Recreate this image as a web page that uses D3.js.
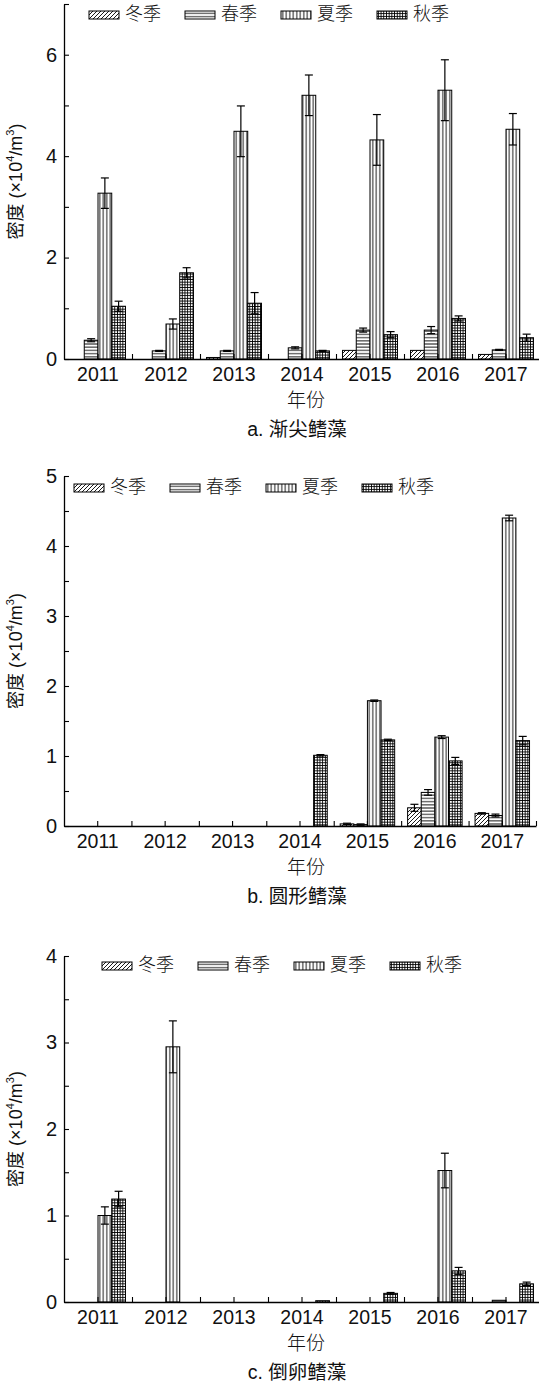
<!DOCTYPE html>
<html>
<head>
<meta charset="utf-8">
<script src="https://cdn.jsdelivr.net/npm/d3@7/dist/d3.min.js"></script>
<style>
  html, body { margin: 0; padding: 0; background: #fff; }
  svg { display: block; }
  text { font-family: "Liberation Sans", Arial, "Noto Sans CJK SC", sans-serif; fill: #111; }
  .cjk { font-family: "Noto Sans CJK SC", sans-serif; font-weight: 300; }
</style>
</head>
<body>
<svg id="fig" width="539" height="1382"></svg>
<script>
// categories
const years = ["2011", "2012", "2013", "2014", "2015", "2016", "2017"];
const seasons = ["冬季", "春季", "夏季", "秋季"];

// a. 渐尖鳍藻 (×10^4/m^3)
const winterA = [0, 0, 0.03, 0, 0.17, 0.17, 0.09];
const springA = [0.37, 0.16, 0.16, 0.22, 0.57, 0.57, 0.18];
const summerA = [3.27, 0.69, 4.49, 5.20, 4.32, 5.30, 4.53];
const autumnA = [1.04, 1.70, 1.10, 0.16, 0.48, 0.80, 0.42];
const winterAErr = [0, 0, 0, 0, 0, 0, 0];
const springAErr = [0.03, 0.01, 0.01, 0.02, 0.04, 0.07, 0.01];
const summerAErr = [0.30, 0.10, 0.50, 0.40, 0.50, 0.60, 0.31];
const autumnAErr = [0.10, 0.10, 0.21, 0.01, 0.06, 0.05, 0.07];

// b. 圆形鳍藻
const winterB = [0, 0, 0, 0, 0.03, 0.26, 0.18];
const springB = [0, 0, 0, 0, 0.02, 0.48, 0.15];
const summerB = [0, 0, 0, 0, 1.79, 1.27, 4.40];
const autumnB = [0, 0, 0, 1.01, 1.23, 0.93, 1.22];
const winterBErr = [0, 0, 0, 0, 0.01, 0.05, 0.01];
const springBErr = [0, 0, 0, 0, 0.01, 0.04, 0.02];
const summerBErr = [0, 0, 0, 0, 0.01, 0.02, 0.04];
const autumnBErr = [0, 0, 0, 0.01, 0.01, 0.05, 0.06];

// c. 倒卵鳍藻
const winterC = [0, 0, 0, 0, 0, 0, 0];
const springC = [0, 0, 0, 0, 0, 0, 0.02];
const summerC = [1.00, 2.95, 0, 0, 0, 1.52, 0];
const autumnC = [1.19, 0, 0, 0.015, 0.10, 0.36, 0.21];
const winterCErr = [0, 0, 0, 0, 0, 0, 0];
const springCErr = [0, 0, 0, 0, 0, 0, 0];
const summerCErr = [0.10, 0.30, 0, 0, 0, 0.20, 0];
const autumnCErr = [0.09, 0, 0, 0, 0.01, 0.04, 0.02];

// y ticks
const yMajorA = [0, 2, 4, 6];
const yMajorB = [0, 1, 2, 3, 4, 5];
const yMajorC = [0, 1, 2, 3, 4];

const svg = d3.select("#fig");
const defs = svg.append("defs");
const patIds = ["pat-diag", "pat-horiz", "pat-vert", "pat-grid"];

// hatch fills
function addPattern(id, w, h, d) {
  const p = defs.append("pattern")
    .attr("id", id)
    .attr("patternUnits", "userSpaceOnUse")
    .attr("width", w).attr("height", h);
  p.append("rect").attr("width", w).attr("height", h).attr("fill", "#fff");
  p.append("path").attr("d", d).attr("stroke", "#000").attr("stroke-width", 0.9).attr("fill", "none");
}
addPattern("pat-diag", 4, 4, "M-1,1L1,-1M0,4L4,0M3,5L5,3");
addPattern("pat-horiz", 4, 3.2, "M0,1.6H4");
addPattern("pat-vert", 3.5, 4, "M1.75,0V4");
addPattern("pat-grid", 2.7, 2.7, "M1.35,0V2.7M0,1.35H2.7");

function drawChart(cfg) {
  const g = svg.append("g");
  const x = d3.scaleBand().domain(years).range([cfg.x0, cfg.x1]).paddingInner(0).paddingOuter(0);
  const bw = x.bandwidth();
  const xs = d3.scaleBand().domain(seasons).range([bw * 0.096, bw * 0.904]);
  const xEdge = d3.scaleLinear().domain([0, years.length]).range([cfg.x0, cfg.x1]);
  const y = d3.scaleLinear().domain([0, cfg.yMax]).range([cfg.yBase, cfg.yTop]);

  const rows = [];
  years.forEach((yr, i) => {
    seasons.forEach((s, j) => {
      rows.push({ year: yr, season: s, k: j, v: cfg.values[j][i], e: cfg.errs[j][i] });
    });
  });
  const shown = rows.filter(d => d.v > 0);

  // bars
  g.append("g").selectAll("rect")
    .data(shown)
    .join("rect")
    .attr("x", d => x(d.year) + xs(d.season))
    .attr("y", d => y(d.v))
    .attr("width", xs.bandwidth())
    .attr("height", d => y(0) - y(d.v))
    .attr("fill", d => `url(#${patIds[d.k]})`)
    .attr("stroke", "#000")
    .attr("stroke-width", 1);

  // error bars (mean ± err)
  const eb = g.append("g").attr("stroke", "#000").attr("stroke-width", 1.2);
  shown.filter(d => d.e > 0).forEach(d => {
    const cx = x(d.year) + xs(d.season) + xs.bandwidth() / 2;
    const hi = y(d.v + d.e), lo = y(Math.max(0, d.v - d.e));
    eb.append("line").attr("x1", cx).attr("x2", cx).attr("y1", hi).attr("y2", lo);
    eb.append("line").attr("x1", cx - 4).attr("x2", cx + 4).attr("y1", hi).attr("y2", hi);
    eb.append("line").attr("x1", cx - 4).attr("x2", cx + 4).attr("y1", lo).attr("y2", lo);
  });

  // y axis
  const yTicks = d3.range(0, cfg.yMax + 0.001, cfg.yMinor);
  const yAx = g.append("g")
    .attr("transform", `translate(${cfg.x0},0)`)
    .call(d3.axisLeft(y)
      .tickValues(yTicks)
      .tickSizeInner(-5)
      .tickSizeOuter(0)
      .tickPadding(7)
      .tickFormat(d => cfg.yMajor.includes(d) ? d3.format("d")(d) : ""));
  yAx.select(".domain").attr("stroke-width", 1.3);
  yAx.selectAll(".tick line").attr("stroke-width", 1.1);
  yAx.selectAll("text").attr("font-size", 20).attr("fill", "#111");

  // x axis: labels + center ticks
  const xAx = g.append("g")
    .attr("transform", `translate(0,${cfg.yBase})`)
    .call(d3.axisBottom(x).tickSizeInner(-5).tickSizeOuter(0).tickPadding(8));
  xAx.select(".domain").attr("stroke-width", 1.3);
  xAx.selectAll(".tick line").attr("stroke-width", 1.1);
  xAx.selectAll("text").attr("font-size", 19.5).attr("fill", "#111");

  // boundary ticks
  const xb = g.append("g")
    .attr("transform", `translate(0,${cfg.yBase})`)
    .call(d3.axisBottom(xEdge).tickValues(d3.range(1, years.length + 1)).tickSizeInner(-5).tickSizeOuter(0).tickFormat(""));
  xb.select(".domain").remove();
  xb.selectAll(".tick line").attr("stroke-width", 1.1);

  // axis titles
  const yt = g.append("text")
    .attr("transform", `translate(${cfg.yTitleX},${(cfg.yTop + cfg.yBase) / 2}) rotate(-90)`)
    .attr("text-anchor", "middle")
    .attr("font-size", 18)
    .attr("fill", "#333");
  yt.append("tspan").text("密度 (×10");
  yt.append("tspan").attr("font-size", 11).attr("dy", -8).text("4");
  yt.append("tspan").attr("dy", 8).text("/m");
  yt.append("tspan").attr("font-size", 11).attr("dy", -8).text("3");
  yt.append("tspan").attr("dy", 8).text(")");

  g.append("text")
    .attr("class", "cjk")
    .attr("x", 306)
    .attr("y", cfg.yBase + 41)
    .attr("dy", "0.35em")
    .attr("text-anchor", "middle")
    .attr("font-size", 19)
    .attr("fill", "#333")
    .text("年份");

  g.append("text")
    .attr("x", 297)
    .attr("y", cfg.yBase + 70)
    .attr("dy", "0.35em")
    .attr("text-anchor", "middle")
    .attr("font-size", 19.5)
    .attr("fill", "#333")
    .text(cfg.caption);

  // legend
  const lg = g.append("g").attr("transform", `translate(${cfg.legendX},${cfg.legendY})`);
  const li = lg.selectAll("g").data(seasons).join("g")
    .attr("transform", (d, i) => `translate(${i * 96},0)`);
  li.append("rect")
    .attr("x", 0).attr("y", -4).attr("width", 30).attr("height", 8)
    .attr("fill", (d, i) => `url(#${patIds[i]})`)
    .attr("stroke", "#000").attr("stroke-width", 1);
  li.append("text")
    .attr("class", "cjk")
    .attr("x", 36).attr("y", -1).attr("dy", "0.35em")
    .attr("font-size", 18)
    .attr("fill", "#333")
    .text(d => d);
}

drawChart({
  values: [winterA, springA, summerA, autumnA],
  errs: [winterAErr, springAErr, summerAErr, autumnAErr],
  x0: 64, x1: 540, yTop: 4, yBase: 359, yMax: 7, yMinor: 1, yMajor: yMajorA,
  yTitleX: 22, caption: "a. 渐尖鳍藻", legendX: 89, legendY: 15
});
drawChart({
  values: [winterB, springB, summerB, autumnB],
  errs: [winterBErr, springBErr, summerBErr, autumnBErr],
  x0: 64, x1: 536, yTop: 476, yBase: 826, yMax: 5, yMinor: 0.5, yMajor: yMajorB,
  yTitleX: 22, caption: "b. 圆形鳍藻", legendX: 74, legendY: 488
});
drawChart({
  values: [winterC, springC, summerC, autumnC],
  errs: [winterCErr, springCErr, summerCErr, autumnCErr],
  x0: 64, x1: 540, yTop: 956, yBase: 1302, yMax: 4, yMinor: 0.5, yMajor: yMajorC,
  yTitleX: 22, caption: "c. 倒卵鳍藻", legendX: 102, legendY: 966
});
</script>
</body>
</html>
